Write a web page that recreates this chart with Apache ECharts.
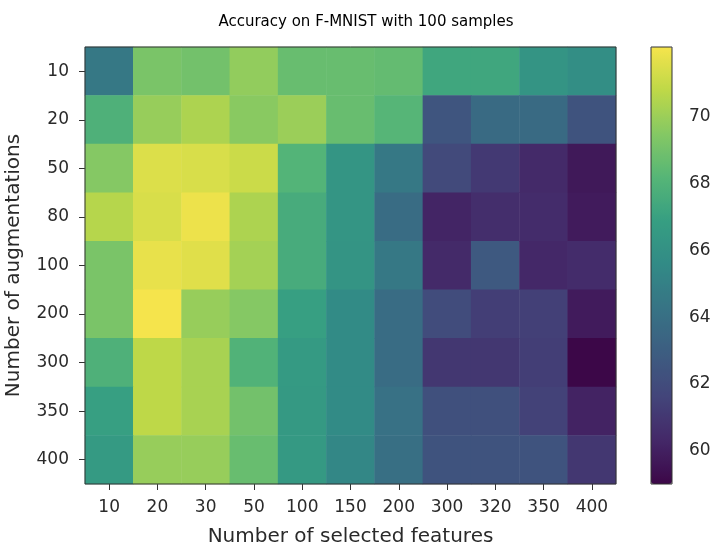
<!DOCTYPE html>
<html>
<head>
<meta charset="utf-8">
<script src="https://cdn.jsdelivr.net/npm/echarts@6/dist/echarts.min.js"></script>
<style>html,body{margin:0;padding:0;background:#fff;}#c{width:722px;height:556px;}</style>
</head>
<body>
<div id="c"></div>
<script>
const features = ['10','20','30','50','100','150','200','300','320','350','400'];
const augmentations = ['10','20','50','80','100','200','300','350','400'];
const accuracy = [
  [64.5, 69.2, 69.0, 69.8, 68.7, 68.7, 68.6, 67.3, 67.3, 66.2, 65.8],
  [67.9, 69.9, 70.4, 69.6, 70.0, 68.7, 68.2, 62.5, 63.7, 63.7, 62.4],
  [69.5, 71.5, 71.4, 71.1, 68.1, 66.3, 64.5, 61.9, 61.1, 60.4, 59.7],
  [70.6, 71.4, 71.9, 70.4, 67.6, 66.3, 63.8, 60.2, 60.6, 60.5, 59.8],
  [69.2, 71.8, 71.6, 70.2, 67.6, 66.2, 64.5, 60.4, 62.7, 60.3, 60.5],
  [69.2, 72.1, 69.9, 69.5, 66.9, 65.6, 63.8, 62.0, 61.3, 61.4, 59.8],
  [67.9, 70.8, 70.3, 68.0, 66.6, 65.6, 63.8, 61.0, 61.0, 61.3, 59.0],
  [66.9, 70.8, 70.3, 69.0, 66.5, 65.6, 64.1, 62.2, 62.2, 61.5, 60.1],
  [66.6, 69.9, 69.9, 68.7, 66.5, 65.4, 64.0, 62.4, 62.4, 62.4, 61.0]
];
const colorTicks = [60, 62, 64, 66, 68, 70];
const vMin = 59.0, vMax = 72.1;
const viridis = ['#440154','#482475','#414487','#355f8d','#2a788e','#21918c','#22a884','#44bf70','#7ad151','#bddf26','#fde725'];

// soften the palette slightly to match the reference rendering
function soften(hex, s) {
  const r = parseInt(hex.slice(1,3),16), g = parseInt(hex.slice(3,5),16), b = parseInt(hex.slice(5,7),16);
  const L = 0.299*r + 0.587*g + 0.114*b;
  const f = c => Math.max(0, Math.min(255, Math.round(L + s*(c - L))));
  return 'rgb(' + f(r) + ',' + f(g) + ',' + f(b) + ')';
}
const palette = viridis.map(h => soften(h, 0.78));

const data = [];
accuracy.forEach((row, r) => row.forEach((v, c) => data.push([c, r, v])));

const font = 'DejaVu Sans';
const chart = echarts.init(document.getElementById('c'), null, {renderer: 'canvas'});
chart.setOption({
  animation: false,
  backgroundColor: '#fff',
  title: {
    text: 'Accuracy on F-MNIST with 100 samples',
    left: 361, top: 10, textAlign: 'center',
    textStyle: {fontFamily: font, fontSize: 15, fontWeight: 'normal', color: '#000'}
  },
  grid: [
    {left: 85, top: 47, width: 531, height: 437, show: true, borderColor: '#333', borderWidth: 1,
     backgroundColor: 'transparent', z: 3, containLabel: false, outerBoundsMode: 'none'},
    {left: 651, top: 47, width: 21, height: 437, show: true, borderColor: '#333', borderWidth: 1,
     backgroundColor: 'transparent', z: 10, containLabel: false, outerBoundsMode: 'none'}
  ],
  xAxis: [
    {type: 'category', data: features, gridIndex: 0,
     name: 'Number of selected features', nameLocation: 'middle', nameGap: 43,
     nameTextStyle: {fontFamily: font, fontSize: 20, color: '#2a2a2a'},
     axisLine: {show: false}, splitLine: {show: false},
     axisTick: {show: true, alignWithLabel: true, interval: 0, length: 6, lineStyle: {color: '#333'}},
     axisLabel: {interval: 0, fontFamily: font, fontSize: 17, color: '#2a2a2a', margin: 15}},
    {type: 'value', gridIndex: 1, show: false, min: 0, max: 1}
  ],
  yAxis: [
    {type: 'category', data: augmentations, inverse: true, gridIndex: 0,
     name: 'Number of augmentations', nameLocation: 'middle', nameGap: 61, nameRotate: 90,
     nameTextStyle: {fontFamily: font, fontSize: 20, color: '#2a2a2a'},
     axisLine: {show: false}, splitLine: {show: false},
     axisTick: {show: true, alignWithLabel: true, interval: 0, length: 6, lineStyle: {color: '#333'}},
     axisLabel: {interval: 0, fontFamily: font, fontSize: 17, color: '#2a2a2a', margin: 16}},
    {type: 'value', gridIndex: 1, position: 'right', min: vMin, max: vMax,
     interval: 2,
     axisLine: {show: false}, splitLine: {show: false},
     axisTick: {show: true, length: 6, lineStyle: {color: '#333'},
                customValues: colorTicks},
     axisLabel: {fontFamily: font, fontSize: 17, color: '#2a2a2a', margin: 17,
                 customValues: colorTicks}}
  ],
  visualMap: {
    type: 'continuous', min: vMin, max: vMax, calculable: false,
    orient: 'vertical', left: 651, top: 47, itemWidth: 21, itemHeight: 437,
    padding: 0, text: ['', ''], showLabel: false, hoverLink: false,
    seriesIndex: 0,
    inRange: {color: palette}
  },
  series: [{
    type: 'heatmap', xAxisIndex: 0, yAxisIndex: 0, data: data,
    itemStyle: {borderWidth: 0},
    emphasis: {disabled: true},
    progressive: 0
  }]
});
</script>
</body>
</html>
